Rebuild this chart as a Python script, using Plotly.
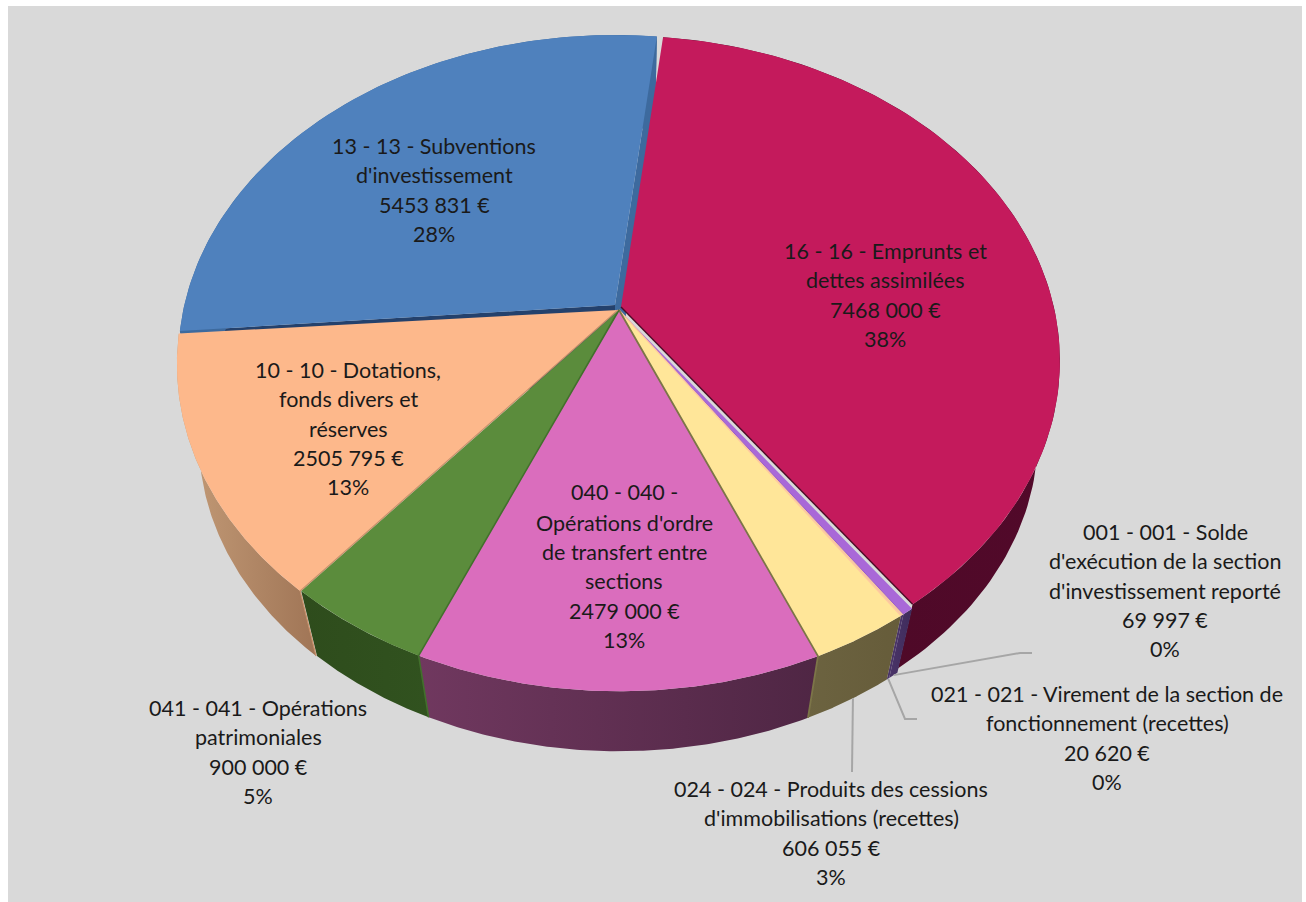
import numpy as np
import plotly.graph_objects as go

# ---- data ----
codes = ["16", "001", "021", "024", "040", "041", "10", "13"]
values = [7468000, 69997, 20620, 606055, 2479000, 900000, 2505795, 5453831]
names = [
    ["16 - 16 - Emprunts et", "dettes assimilées"],
    ["001 - 001 - Solde", "d'exécution de la section", "d'investissement reporté"],
    ["021 - 021 - Virement de la section de", "fonctionnement (recettes)"],
    ["024 - 024 - Produits des cessions", "d'immobilisations (recettes)"],
    ["040 - 040 -", "Opérations d'ordre", "de transfert entre", "sections"],
    ["041 - 041 - Opérations", "patrimoniales"],
    ["10 - 10 - Dotations,", "fonds divers et", "réserves"],
    ["13 - 13 - Subventions", "d'investissement"],
]

# ---- styles ----
top_colors = ["#c41a5c", "#a968d8", "#f6c8a0", "#ffe699", "#da6dbd", "#5b8c3c", "#fdb88b", "#4f81bd"]
wall_colors = [
    ("#4a0a25", "#52092a"), ("#4a3468", "#3f2c5c"), ("#4a3468", "#4a3468"), ("#6c6340", "#665c3a"),
    ("#70385f", "#4f2644"), ("#2e4c1c", "#31521f"), ("#c49c78", "#a07556"), ("#3d6a9e", "#3d6a9e"),
]
nudge_x = [3, 1, 1, 1, 1, 1, 0, -3]
nudge_y = [-1, 2, 2, 2, 2, 2, 2, -3]
radius_scale = [0.995, 1, 1, 1, 1, 1, 1, 0.99]
label_x = [885, 1165, 1107, 831, 624, 258, 348, 434]
label_y = [251, 532, 694, 789, 492, 708, 370, 146]
line_step = 29.3
draw_order = [7, 0, 6, 1, 2, 3, 5, 4]
# slice index, which edge (0 start, -1 end), colour, width, continue down the rim
seams = [(0, -1, "#4d0a26", 1.4, False), (1, -1, "#9a5cc8", 1.0, False), (2, -1, "#ffc8a0", 1.2, False),
         (3, -1, "#7c7548", 1.8, True), (5, 0, "#42702c", 1.6, True), (6, 0, "#c8916a", 1.2, True)]

# ---- projection of the tilted disc on the page ----
CX, CY, A, B, K = 618.0, 308.0, 435.0, 318.0, 0.166
START_DEG = 6.5
BLUE_LEAD_DEG = -0.5
VX, VY, SHRINK = 618.0, 1890.0, 0.95


def top(theta, i):
    u, v = np.sin(theta), -np.cos(theta)
    w = 1 - K * v
    r = radius_scale[i]
    return CX + r * A * u / w + nudge_x[i], CY + r * B * v / w + nudge_y[i]


def apex(i):
    return np.array([CX + nudge_x[i]]), np.array([CY + nudge_y[i]])


def drop(x, y):
    return VX + SHRINK * (x - VX), VY + SHRINK * (y - VY)


total = sum(values)
shares = np.array(values) / total
edges = np.radians(START_DEG) + np.concatenate([[0], np.cumsum(shares)]) * 2 * np.pi

fig = go.Figure()


def poly(x, y, fill=None, grad=None):
    kw = dict(x=np.asarray(x).tolist(), y=np.asarray(y).tolist(), mode="lines", fill="toself",
              line=dict(width=0), hoverinfo="skip", showlegend=False)
    if grad:
        kw["fillgradient"] = dict(type="horizontal", colorscale=[[0, grad[0]], [1, grad[1]]])
    else:
        kw["fillcolor"] = fill
    fig.add_trace(go.Scatter(**kw))


def arc(i):
    t0 = edges[i] + (np.radians(BLUE_LEAD_DEG) if i == 7 else 0)
    return np.linspace(t0, edges[i + 1], 120)


for i in draw_order:
    th = arc(i)
    ax, ay = top(th, i)
    px, py = apex(i)
    # side walls for the slices pulled out of the pie
    if i == 7:
        for a, col in ((th[0], "#24416c"), (th[-1], "#3d6a9e")):
            ex, ey = top(np.array([a]), i)
            qx = np.concatenate([px, ex]); qy = np.concatenate([py, ey])
            bx, by = drop(qx, qy)
            poly(np.concatenate([qx, bx[::-1]]), np.concatenate([qy, by[::-1]]), fill=col)
    # outer rim
    bx, by = drop(ax, ay)
    poly(np.concatenate([ax, bx[::-1]]), np.concatenate([ay, by[::-1]]), grad=wall_colors[i])
    # top face
    poly(np.concatenate([px, ax]), np.concatenate([py, ay]), fill=top_colors[i])

# radial seams between neighbouring slices, and their continuation down the rim
for i, e, col, wd, down in seams:
    th = arc(i)
    ax, ay = top(th, i)
    px, py = apex(i)
    sx, sy = [px[0], ax[e]], [py[0], ay[e]]
    if down:
        dx, dy = drop(ax[e], ay[e])
        sx.append(dx)
        sy.append(dy)
    fig.add_trace(go.Scatter(x=sx, y=sy, mode="lines", line=dict(color=col, width=wd),
                             hoverinfo="skip", showlegend=False))

# ---- leader lines from the rim ----
leaders = {1: [(1020, 653), (1032, 653)], 2: [(905, 719), (917, 719)], 3: [(852, 772)]}
for i, tail in leaders.items():
    mid = np.array([edges[i] + 0.45 * (edges[i + 1] - edges[i])])
    sx, sy = drop(*top(mid, i))
    fig.add_trace(go.Scatter(
        x=[sx[0]] + [p[0] for p in tail], y=[sy[0]] + [p[1] for p in tail], mode="lines",
        line=dict(color="#a6a6a6", width=2), hoverinfo="skip", showlegend=False))


def money(v):
    s = str(v)
    return s[:-3] + " " + s[-3:] + " €"


annotations = []
for i, lines in enumerate(names):
    texts = lines + [money(values[i]), f"{round(shares[i] * 100)}%"]
    for j, t in enumerate(texts):
        y = label_y[i] + j * line_step
        if i == 4 and j > 0:
            y += 1.5
        annotations.append(dict(x=label_x[i], y=y, text=t, showarrow=False, xanchor="center", yanchor="middle",
                                font=dict(family="Lato, 'Open Sans', sans-serif", size=21.5, color="#1a1a1a")))

fig.update_layout(
    width=1306, height=902, margin=dict(l=0, r=0, t=0, b=0), autosize=False,
    paper_bgcolor="white", plot_bgcolor="white", showlegend=False,
    xaxis=dict(range=[0, 1306], visible=False, fixedrange=True),
    yaxis=dict(range=[902, 0], visible=False, fixedrange=True),
    shapes=[dict(type="rect", x0=8, x1=1302, y0=6, y1=902, fillcolor="#d9d9d9", line=dict(width=0), layer="below")],
    annotations=annotations,
)
fig.write_html("out.html", config={"displayModeBar": False},
               post_script="document.body.style.margin='0';document.body.style.overflow='hidden';")
